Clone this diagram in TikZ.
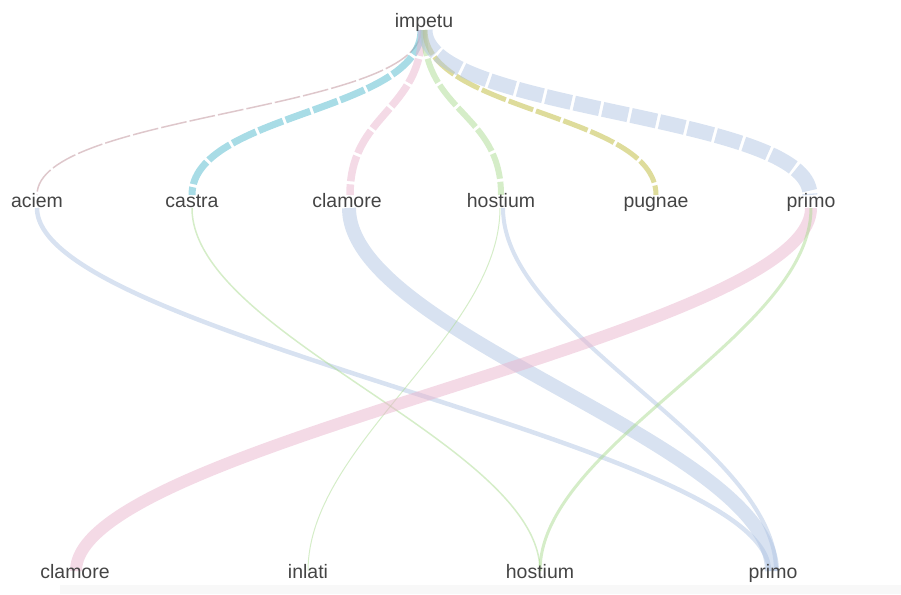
\documentclass[tikz,border=0pt]{standalone}
\usepackage{fontspec}
\setmainfont{Liberation Sans}
\usetikzlibrary{calc,backgrounds}

\begin{document}
\begin{tikzpicture}[x=0.75pt, y=-0.75pt]

\definecolor{wordink}{HTML}{444444}
\definecolor{linkblue}{HTML}{B1C5E3}
\definecolor{linkpink}{HTML}{E9B5CD}
\definecolor{linkgreen}{HTML}{ABDB91}
\definecolor{linkcyan}{HTML}{51B9CD}
\definecolor{linkyellow}{HTML}{BDB937}
\definecolor{linkbrown}{HTML}{BE9098}
\definecolor{bandgray}{HTML}{F8F8F8}

\tikzset{
  word/.style={
    anchor=base, text=wordink, inner sep=0pt,
    font=\fontsize{14.6pt}{17pt}\selectfont
  },
  link/.style={line width=#1*0.75pt, opacity=0.5},
  toplink/.style={dash pattern=on 19.5pt off 2.3pt}
}

% Vertical link: leaves and enters straight, handles a fraction #3 of the height.
\newcommand{\wordLink}[4]{%
  \coordinate (linka) at ($(#1)!#3!(#2)$);
  \coordinate (linkb) at ($(#2)!#3!(#1)$);
  \draw[#4] (#1) .. controls (#1 |- linka) and (#2 |- linkb) .. (#2);
}

\useasboundingbox (0,0) rectangle (901,594);
\fill[bandgray] (60,585) rectangle (901,594);

% Root word.
\node[word] (imp) at (424,27) {impetu};

% Words that follow the root.
\node[word] (aciem)  at (37,207)  {aciem};
\node[word] (castra) at (192,207) {castra};
\node[word] (clamA)  at (347,207) {clamore};
\node[word] (hostA)  at (501,207) {hostium};
\node[word] (pugnae) at (656,207) {pugnae};
\node[word] (primA)  at (811,207) {primo};

% Third words.
\node[word] (clamB)  at (75,578)  {clamore};
\node[word] (inlati) at (308,578) {inlati};
\node[word] (hostB)  at (540,578) {hostium};
\node[word] (primB)  at (773,578) {primo};

\begin{pgfonlayer}{background}
% Dashed links from the root to the second row.
\foreach \to/\dx/\tdx/\wid/\col in {
  aciem/-3/0/1.5/linkbrown,
  castra/-3/0/7/linkcyan,
  clamA/-2/3/7.5/linkpink,
  hostA/0/0/6/linkgreen,
  pugnae/1/0/5/linkyellow,
  primA/1/-1/15/linkblue} {%
  \coordinate (from) at ($(imp.base)+(\dx,3)$);
  \coordinate (upto) at ($(\to.base)+(\tdx,-12)$);
  \wordLink{from}{upto}{0.5}{link=\wid, draw=\col, toplink}
}

% Solid links from the second row to the third row.
\foreach \from/\fdx/\to/\tdx/\wid/\col in {
  aciem/0/primB/-4/4.5/linkblue,
  castra/0/hostB/0/1.5/linkgreen,
  clamA/2/primB/-1/14/linkblue,
  hostA/-1/inlati/0/1/linkgreen,
  hostA/2/primB/3/4/linkblue,
  primA/0/clamB/1/12/linkpink,
  primA/0/hostB/0/3/linkgreen} {%
  \coordinate (from) at ($(\from.base)+(\fdx,1)$);
  \coordinate (upto) at ($(\to.base)+(\tdx,-7)$);
  \wordLink{from}{upto}{0.35}{link=\wid, draw=\col}
}
\end{pgfonlayer}

\end{tikzpicture}
\end{document}
